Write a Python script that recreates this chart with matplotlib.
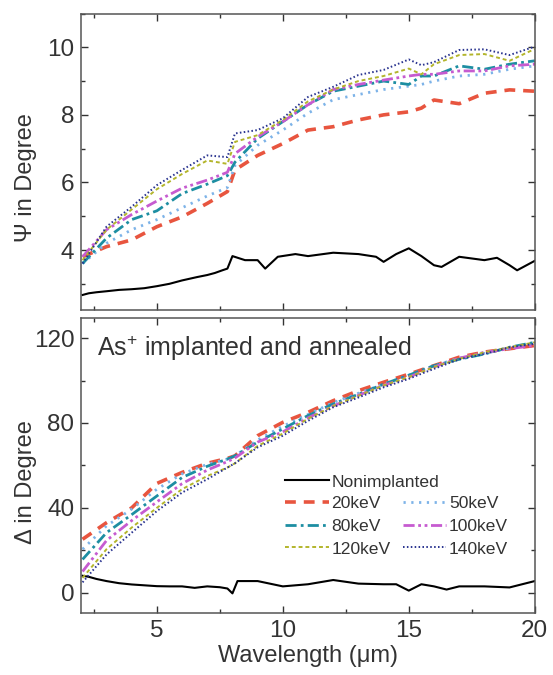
"""Psi / Delta ellipsometry spectra for As+ implanted and annealed samples."""

import matplotlib

matplotlib.use("Agg")
import matplotlib.pyplot as plt
from matplotlib.lines import Line2D
from matplotlib.ticker import MultipleLocator

plt.rcParams["font.family"] = ["Liberation Sans", "DejaVu Sans"]
plt.rcParams["mathtext.fontset"] = "custom"
plt.rcParams["mathtext.rm"] = "Liberation Sans"

# --- data ---------------------------------------------------------------
labels = ["20keV", "50keV", "80keV", "100keV", "120keV", "140keV"]

# Nonimplanted reference
wl_ref_psi = [2.05, 2.3, 2.6, 3.0, 3.5, 4.0, 4.5, 5.0, 5.5, 6.0, 6.3, 6.6, 7.0,
              7.3, 7.6, 7.8, 8.0, 8.5, 9.0, 9.3, 9.8, 10.5, 11.0, 12.0, 13.0,
              13.7, 14.0, 14.5, 15.0, 15.5, 16.0, 16.3, 17.0, 17.5, 18.0,
              18.5, 19.0, 19.3, 20.0]
psi_ref = [2.67, 2.72, 2.75, 2.78, 2.82, 2.84, 2.87, 2.93, 3.0, 3.1, 3.15, 3.2,
           3.26, 3.32, 3.4, 3.45, 3.82, 3.7, 3.7, 3.45, 3.8, 3.88, 3.82, 3.92,
           3.88, 3.8, 3.65, 3.88, 4.05, 3.82, 3.55, 3.5, 3.8, 3.75, 3.7, 3.77,
           3.55, 3.4, 3.68]

wl_ref_delta = [2.05, 2.3, 2.6, 3.0, 3.5, 4.0, 4.5, 5.0, 5.5, 6.0, 6.5, 7.0,
                7.5, 7.8, 8.0, 8.2, 9.0, 10.0, 11.0, 12.0, 13.0, 14.0, 14.5,
                15.0, 15.5, 16.0, 16.5, 17.0, 18.0, 19.0, 20.0]
delta_ref = [8.0, 7.5, 6.5, 5.5, 4.5, 3.9, 3.5, 3.1, 3.0, 3.0, 2.3, 3.0, 2.6,
             2.0, -0.3, 5.5, 5.5, 3.0, 4.0, 6.0, 4.3, 4.0, 4.0, 1.0, 4.0, 3.0,
             1.5, 3.0, 3.0, 2.5, 5.5]

# Implanted samples (common wavelength grid)
wl = [2.05, 3.0, 4.0, 5.0, 6.0, 7.0, 7.8, 8.1, 9.0, 10.0, 11.0, 12.0, 13.0,
      14.0, 15.0, 15.5, 16.0, 17.0, 18.0, 19.0, 20.0]

psi_20 = [3.8, 4.1, 4.3, 4.69, 4.98, 5.38, 5.73, 6.37, 6.8, 7.15, 7.55, 7.65,
          7.85, 8.0, 8.09, 8.2, 8.44, 8.33, 8.64, 8.74, 8.7]
psi_50 = [3.6, 4.2, 4.6, 4.9, 5.25, 5.6, 5.85, 6.5, 7.1, 7.55, 8.05, 8.45, 8.6,
          8.75, 8.85, 8.9, 9.0, 9.15, 9.2, 9.35, 9.45]
psi_80 = [3.6, 4.35, 4.9, 5.16, 5.67, 5.95, 6.2, 6.6, 7.3, 7.8, 8.3, 8.7, 8.85,
          9.0, 8.9, 9.15, 9.15, 9.45, 9.35, 9.5, 9.6]
psi_100 = [3.8, 4.6, 5.05, 5.45, 5.83, 6.07, 6.3, 6.85, 7.35, 7.8, 8.3, 8.75,
           8.9, 9.03, 9.15, 9.2, 9.2, 9.3, 9.3, 9.45, 9.5]
psi_120 = [3.7, 4.6, 5.2, 5.8, 6.25, 6.65, 6.55, 7.2, 7.4, 7.85, 8.4, 8.75,
           9.0, 9.15, 9.37, 9.2, 9.5, 9.77, 9.8, 9.6, 9.95]
psi_140 = [3.6, 4.69, 5.28, 5.92, 6.37, 6.8, 6.75, 7.45, 7.55, 7.9, 8.53, 8.83,
           9.18, 9.33, 9.64, 9.47, 9.56, 9.92, 9.94, 9.77, 10.02]

delta_20 = [25.2, 33.0, 40.0, 51.5, 56.7, 61.0, 63.3, 64.5, 74.0, 80.3, 85.0,
            90.5, 95.2, 99.2, 103.0, 105.0, 107.0, 111.0, 113.4, 115.0, 116.5]
delta_50 = [20.5, 31.5, 39.4, 48.8, 56.0, 60.5, 63.0, 64.5, 72.0, 78.5, 84.0,
            89.6, 94.0, 98.3, 102.5, 104.8, 107.0, 110.5, 112.8, 115.2, 117.3]
delta_80 = [15.7, 28.3, 36.8, 45.6, 54.3, 59.6, 63.0, 64.5, 71.0, 77.2, 83.5,
            89.0, 93.5, 98.3, 102.5, 104.8, 107.0, 110.0, 112.5, 115.7, 118.0]
delta_100 = [10.0, 24.6, 34.0, 42.8, 51.4, 57.8, 61.8, 63.5, 71.0, 75.8, 82.4,
             88.0, 93.0, 97.7, 101.6, 104.0, 106.4, 110.5, 113.3, 115.0, 116.5]
delta_120 = [7.0, 20.5, 30.7, 40.0, 48.8, 55.0, 59.0, 61.0, 69.2, 75.0, 82.0,
             88.0, 92.8, 97.7, 101.6, 104.0, 106.4, 110.2, 113.3, 115.7, 118.0]
delta_140 = [4.9, 18.0, 28.3, 38.5, 47.2, 53.5, 59.0, 61.0, 68.5, 74.0, 81.0,
             87.4, 92.0, 96.8, 100.8, 103.2, 105.5, 110.0, 112.5, 115.7, 117.3]

psi_series = [psi_20, psi_50, psi_80, psi_100, psi_120, psi_140]
delta_series = [delta_20, delta_50, delta_80, delta_100, delta_120, delta_140]

# --- styles ---------------------------------------------------------------
styles = [
    dict(color="#e8553f", lw=2.6, ls=(0, (3.0, 2.2))),
    dict(color="#7db3e8", lw=2.0, ls=(0, (0.8, 2.0))),
    dict(color="#1d8ea2", lw=2.0, ls=(0, (4.0, 1.5, 1.0, 1.5))),
    dict(color="#c65bd0", lw=2.0, ls=(0, (4.0, 1.3, 1.0, 1.3, 1.0, 1.3))),
    dict(color="#b3b52c", lw=1.4, ls=(0, (2.0, 1.5))),
    dict(color="#29338f", lw=1.4, ls=(0, (0.8, 1.2))),
]

TXT = "#333333"

fig = plt.figure(figsize=(5.53, 6.75), dpi=100)
ax_psi = fig.add_axes([0.147, 0.541, 0.820, 0.439])
ax_del = fig.add_axes([0.147, 0.092, 0.820, 0.437])

ax_psi.plot(wl_ref_psi, psi_ref, color="black", lw=1.5)
ax_del.plot(wl_ref_delta, delta_ref, color="black", lw=1.5)
for psi, delta, st in zip(psi_series, delta_series, styles):
    ax_psi.plot(wl, psi, **st)
    ax_del.plot(wl, delta, **st)

ax_psi.set_xlim(2.0, 20)
ax_psi.set_ylim(2.23, 11.0)
ax_del.set_xlim(2.0, 20)
ax_del.set_ylim(-9.5, 129.5)

ax_psi.yaxis.set_major_locator(MultipleLocator(2))
ax_psi.yaxis.set_minor_locator(MultipleLocator(1))
ax_del.yaxis.set_major_locator(MultipleLocator(40))
ax_del.yaxis.set_minor_locator(MultipleLocator(20))
for ax in (ax_psi, ax_del):
    ax.xaxis.set_major_locator(MultipleLocator(5))
    ax.xaxis.set_minor_locator(MultipleLocator(2.5))
    ax.tick_params(which="both", direction="in", top=True, right=True,
                   labelsize=17.5, colors=TXT, pad=5)
    ax.tick_params(which="major", length=5, width=1)
    ax.tick_params(which="minor", length=3, width=1)
    for spine in ax.spines.values():
        spine.set_color("#555555")
        spine.set_linewidth(1.1)
ax_psi.tick_params(labelbottom=False)

ax_psi.set_ylabel("Ψ in Degree", fontsize=17, color=TXT)
ax_del.set_ylabel("Δ in Degree", fontsize=17, color=TXT)
ax_del.set_xlabel("Wavelength (μm)", fontsize=17, color=TXT, labelpad=2)
ax_psi.yaxis.set_label_coords(-0.098, 0.445)
ax_del.yaxis.set_label_coords(-0.098, 0.445)

ax_del.text(0.034, 0.898, "As$^{+}$ implanted and annealed", transform=ax_del.transAxes,
            fontsize=18, color=TXT, va="center", ha="left")

# legend: Nonimplanted on its own row, then a two-column block below it
leg_kw = dict(frameon=False, fontsize=12.6, handlelength=2.5, handletextpad=0.15,
              labelspacing=0.42, columnspacing=0.7, borderpad=0.0,
              borderaxespad=0.0, labelcolor=TXT, loc="lower left")
h_cur = [Line2D([], [], **st) for st in styles]
order = [0, 2, 4, 1, 3, 5]
leg_kev = ax_del.legend([h_cur[i] for i in order], [labels[i] for i in order],
                        ncol=2, bbox_to_anchor=(0.449, 0.191), **leg_kw)
ax_del.add_artist(leg_kev)
ax_del.legend([Line2D([], [], color="black", lw=1.5)], ["Nonimplanted"],
              bbox_to_anchor=(0.449, 0.418), **leg_kw)

fig.savefig("out.png", dpi=100)
